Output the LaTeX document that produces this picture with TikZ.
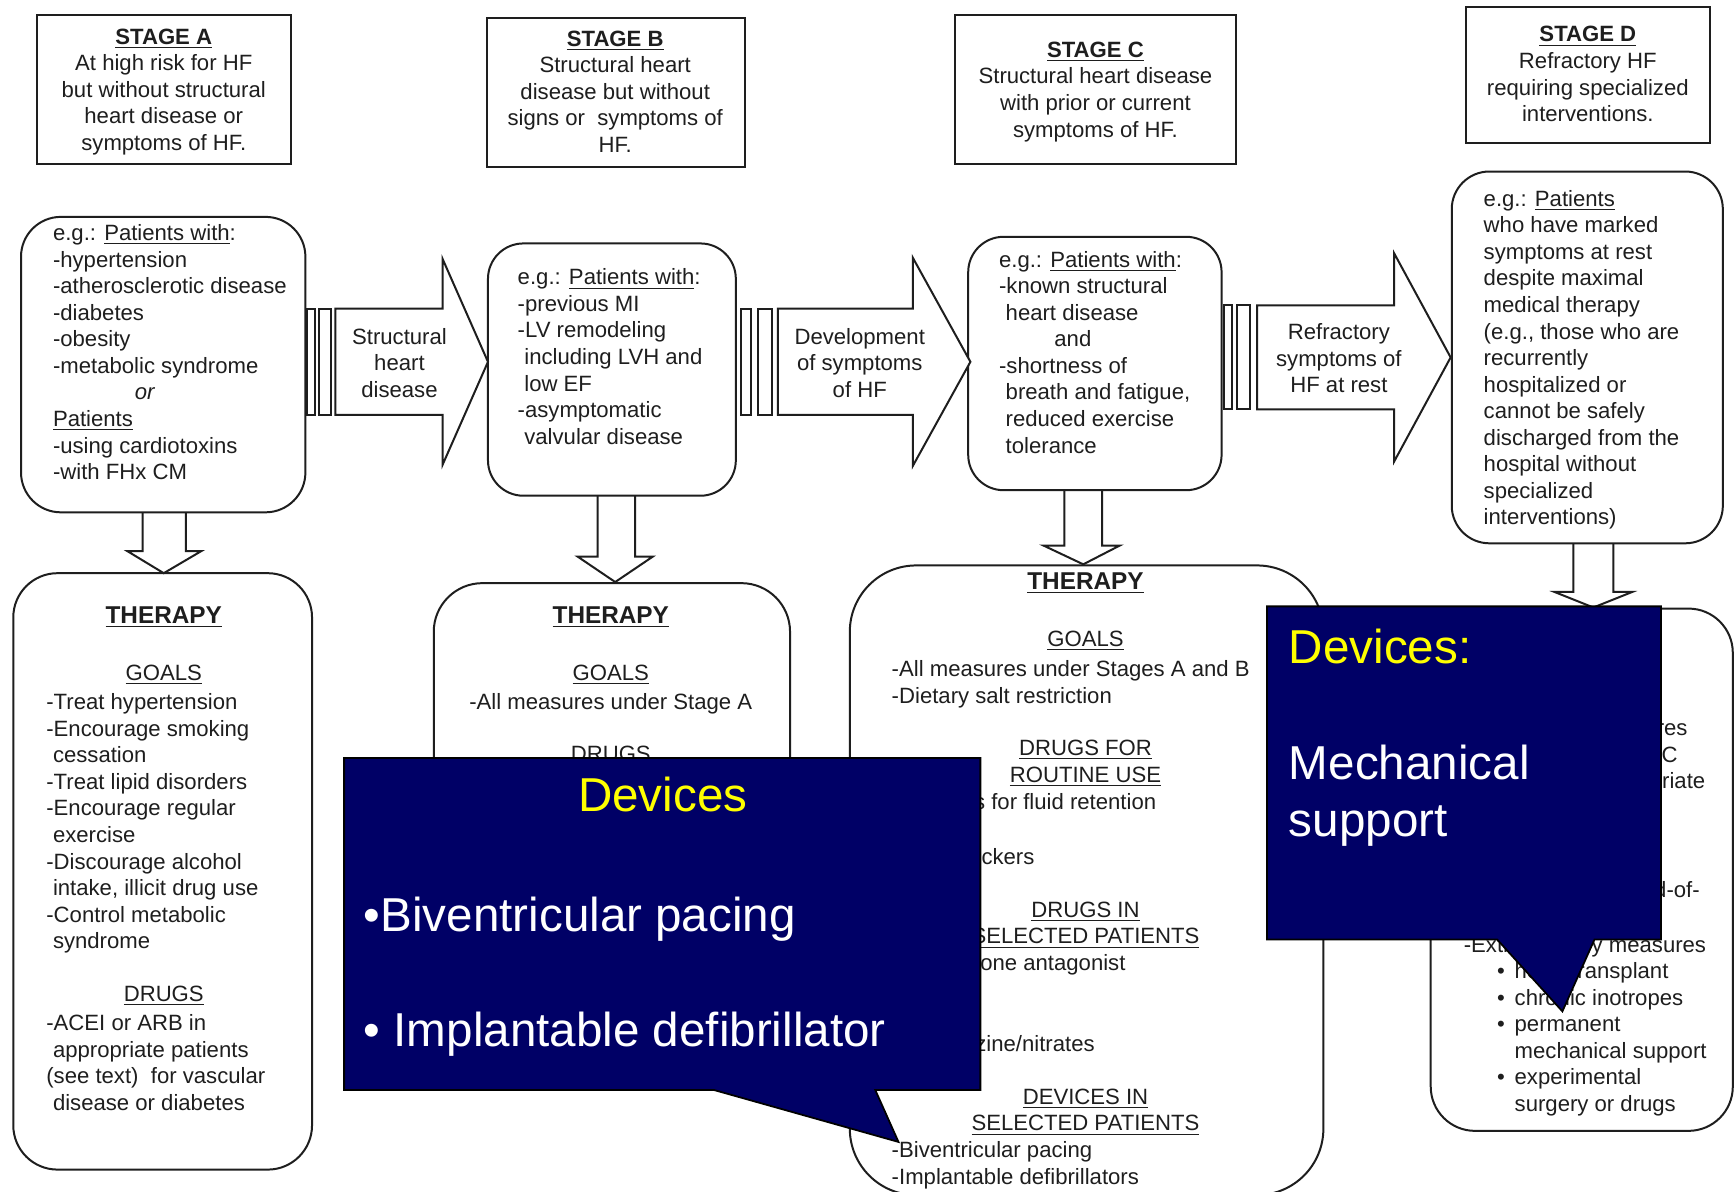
\documentclass[tikz,border=0pt]{standalone}
\usepackage{fontspec}
\setmainfont{Liberation Sans}
\usetikzlibrary{fit}
\definecolor{navy}{RGB}{0,0,102}
\definecolor{ylw}{RGB}{255,255,0}
\definecolor{ink}{RGB}{30,30,30}
\newcommand{\bodyf}{\fontsize{10}{12}\selectfont}
\newcommand{\therf}{\fontsize{11}{13}\selectfont\bfseries}
\newcommand{\bigf}{\fontsize{21.5}{26}\selectfont}
\newcommand{\tdbul}{\makebox[8pt][l]{\textbullet}}
\begin{document}
\begin{tikzpicture}[x=0.5pt,y=-0.5pt,
  line width=0.9pt, draw=ink, text=ink,
  stagebox/.style={draw, inner sep=0pt},
  rbox/.style={draw, inner sep=0pt, rounded corners=#1},
  txt/.style={inner sep=0pt, align=left, anchor=north west, font=\bodyf},
  frag/.style={inner sep=0pt, anchor=base east, font=\bodyf},
  ctxt/.style={inner sep=0pt, align=center, font=\bodyf},
  thead/.style={inner sep=0pt, font=\therf},
  blockarrow/.style={draw, fill=white, line join=miter},
  callout/.style={draw=black, fill=navy, line width=0.8pt, line join=miter},
  ctitle/.style={inner sep=0pt, text=ylw, font=\bigf},
  cbody/.style={inner sep=0pt, text=white, font=\bigf, align=left, anchor=north west},
]
\path[use as bounding box] (0,0) rectangle (1568,1077);
\fill[white] (0,0) rectangle (1568,1077);

% ---------- stage boxes ----------
\node[stagebox, fit={(33,14)(263,148)}] (sa) {};
\node[ctxt, anchor=north] (sat) at (148,25) {\underline{\textbf{STAGE A}}\\At high risk for HF\\but without structural\\heart disease or\\symptoms of HF.};
\node[stagebox, fit={(440,16)(673,151)}] (sb) {};
\node[ctxt, anchor=north] (sbt) at (556,27) {\underline{\textbf{STAGE B}}\\Structural heart\\disease but without\\signs or\ \ symptoms of\\HF.};
\node[stagebox, fit={(863,14)(1117,148)}] (sc) {};
\node[ctxt, anchor=north] (sct) at (990,37) {\underline{\textbf{STAGE C}}\\Structural heart disease\\with prior or current\\symptoms of HF.};
\node[stagebox, fit={(1325,6)(1545,129)}] (sd) {};
\node[ctxt, anchor=north] (sdt) at (1435,23) {\underline{\textbf{STAGE D}}\\Refractory HF\\requiring specialized\\interventions.};

% ---------- down block arrows (drawn first) ----------
\path[blockarrow] (129,463) -- (129,498) -- (115,498) -- (148,518) -- (182,498) -- (168,498) -- (168,463);
\path[blockarrow] (540,448) -- (540,503) -- (522,503) -- (556,526) -- (590,503) -- (574,503) -- (574,448);
\path[blockarrow] (962,443) -- (962,493) -- (943,493) -- (979,510) -- (1012,493) -- (996,493) -- (996,443);
\path[blockarrow] (1422,491) -- (1422,535) -- (1405,535) -- (1440,549) -- (1475,535) -- (1458,535) -- (1458,491);

% ---------- patient boxes ----------
\node[rbox=18pt, fit={(19,196)(276,463)}] (pa) {};
\node[txt] (pat) at (47,202) {e.g.: \underline{Patients with}:\\-hypertension\\-atherosclerotic disease\\-diabetes\\-obesity\\-metabolic syndrome\\\hspace*{37pt}\textit{or}\\\underline{Patients}\\-using cardiotoxins\\-with FHx CM};
\node[rbox=16pt, fit={(441,220)(665,448)}] (pb) {};
\node[txt] (pbt) at (467,242) {e.g.: \underline{Patients with}:\\-previous MI\\-LV remodeling\\\hspace*{3pt}including LVH and\\\hspace*{3pt}low EF\\-asymptomatic\\\hspace*{3pt}valvular disease};
\node[rbox=16pt, fit={(875,214)(1104,443)}] (pc) {};
\node[txt] (pct) at (902,226) {e.g.: \underline{Patients with}:\\-known structural\\\hspace*{3pt}heart disease\\\hspace*{25pt}and\\-shortness of\\\hspace*{3pt}breath and fatigue,\\\hspace*{3pt}reduced exercise\\\hspace*{3pt}tolerance};
\node[rbox=17pt, fit={(1312,155)(1557,491)}] (pd) {};
\node[txt] (pdt) at (1340,171) {e.g.: \underline{Patients}\\who have marked\\symptoms at rest\\despite maximal\\medical therapy\\(e.g., those who are\\recurrently\\hospitalized or\\cannot be safely\\discharged from the\\hospital without\\specialized\\interventions)};

% ---------- horizontal block arrows ----------
\draw (277,279) rectangle (285,375);
\draw (288,279) rectangle (299,375);
\path[blockarrow] (303,279) -- (400,279) -- (400,234) -- (441,327) -- (400,420) -- (400,375) -- (303,375) -- cycle;
\node[ctxt] (lab1) at (361,328) {Structural\\heart\\disease};
\draw (670,279) rectangle (679,375);
\draw (685,279) rectangle (698,375);
\path[blockarrow] (703,279) -- (825,279) -- (825,233) -- (877,327) -- (825,421) -- (825,375) -- (703,375) -- cycle;
\node[ctxt] (lab2) at (777,328) {Development\\of symptoms\\of HF};
\draw (1106,276) rectangle (1113,370);
\draw (1118,276) rectangle (1130,370);
\path[blockarrow] (1136,276) -- (1260,276) -- (1260,229) -- (1311,323) -- (1260,417) -- (1260,370) -- (1136,370) -- cycle;
\node[ctxt] (lab3) at (1210,324) {Refractory\\symptoms of\\HF at rest};

% ---------- therapy A ----------
\node[rbox=20pt, fit={(12,518)(282,1057)}] (ta) {};
\node[thead] (tah) at (148,558) {\underline{THERAPY}};
\node[ctxt] (tag) at (148,610) {\underline{GOALS}};
\node[txt] (tal) at (41,626) {-Treat hypertension\\-Encourage smoking\\\hspace*{3pt}cessation\\-Treat lipid disorders\\-Encourage regular\\\hspace*{3pt}exercise\\-Discourage alcohol\\\hspace*{3pt}intake, illicit drug use\\-Control metabolic\\\hspace*{3pt}syndrome};
\node[ctxt] (tad) at (148,900) {\underline{DRUGS}};
\node[txt] (tadl) at (41,916) {-ACEI or ARB in\\\hspace*{3pt}appropriate patients\\(see text)\ \ for vascular\\\hspace*{3pt}disease or diabetes};

% ---------- therapy B ----------
\node[rbox=22pt, fit={(392,527)(714,960)}] (tb) {};
\node[thead] (tbh) at (552,558) {\underline{THERAPY}};
\node[ctxt] (tbg) at (552,610) {\underline{GOALS}};
\node[ctxt] (tbl) at (552,636) {-All measures under Stage A};
\node[ctxt] (tbd) at (552,683) {\underline{DRUGS}};

% ---------- therapy C ----------
\node[rbox=30pt, fit={(768,511)(1196,1080)}] (tc) {};
\node[thead] (tch) at (981,527) {\underline{THERAPY}};
\node[ctxt] (tcg) at (981,579) {\underline{GOALS}};
\node[txt] (tcl) at (805,596) {-All measures under Stages A and B\\-Dietary salt restriction};
\node[ctxt, anchor=north] (tcd1) at (981,668) {\underline{DRUGS FOR}\\\underline{ROUTINE USE}};
\node[txt] (tcl2) at (805,716) {-Diuretics for fluid retention};
\node[txt] (tcl3) at (805,766) {-Beta-blockers};
\node[ctxt, anchor=north] (tcd2) at (981,814) {\underline{DRUGS IN}\\\underline{SELECTED PATIENTS}};
\node[txt] (tcl4) at (805,862) {-Aldosterone antagonist};
\node[txt] (tcl5) at (805,935) {-Hydralazine/nitrates};
\node[ctxt, anchor=north] (tcd3) at (981,983) {\underline{DEVICES IN}\\\underline{SELECTED PATIENTS}};
\node[txt] (tcl6) at (805,1031) {-Biventricular pacing\\-Implantable defibrillators};

% ---------- therapy D (visible parts) ----------
\node[rbox=20pt, fit={(1293,550)(1566,1022)}] (td) {};
\node[frag] (tdf1) at (1526,665) {res};
\node[frag] (tdf2) at (1517,689) {C};
\node[frag] (tdf3) at (1542,713) {riate};
\node[frag] (tdf4) at (1537,811) {d-of-};
\node[txt] (tdl3) at (1322,845) {-Extraordinary measures};
\node[txt] (tdl4) at (1352,869) {\tdbul heart transplant\\\tdbul chronic inotropes\\\tdbul permanent\\\hspace*{8pt}mechanical support\\\tdbul experimental\\\hspace*{8pt}surgery or drugs};

% ---------- callouts ----------
\path[callout] (311,685) -- (886,685) -- (886,985) -- (791,985) -- (812,1032) -- (645,985) -- (311,985) -- cycle;
\node[ctitle, anchor=base] (c1t) at (599,733) {Devices};
\node[cbody] (c1b) at (328,810) {\textbullet Biventricular pacing\\\mbox{}\\\textbullet\ Implantable defibrillator};

\path[callout] (1145,548) -- (1501,548) -- (1501,849) -- (1441,849) -- (1412,914) -- (1353,849) -- (1145,849) -- cycle;
\node[cbody] (c2b) at (1164,568) {\textcolor{ylw}{Devices:}\\\mbox{}\\Mechanical\\support};
\end{tikzpicture}
\end{document}
